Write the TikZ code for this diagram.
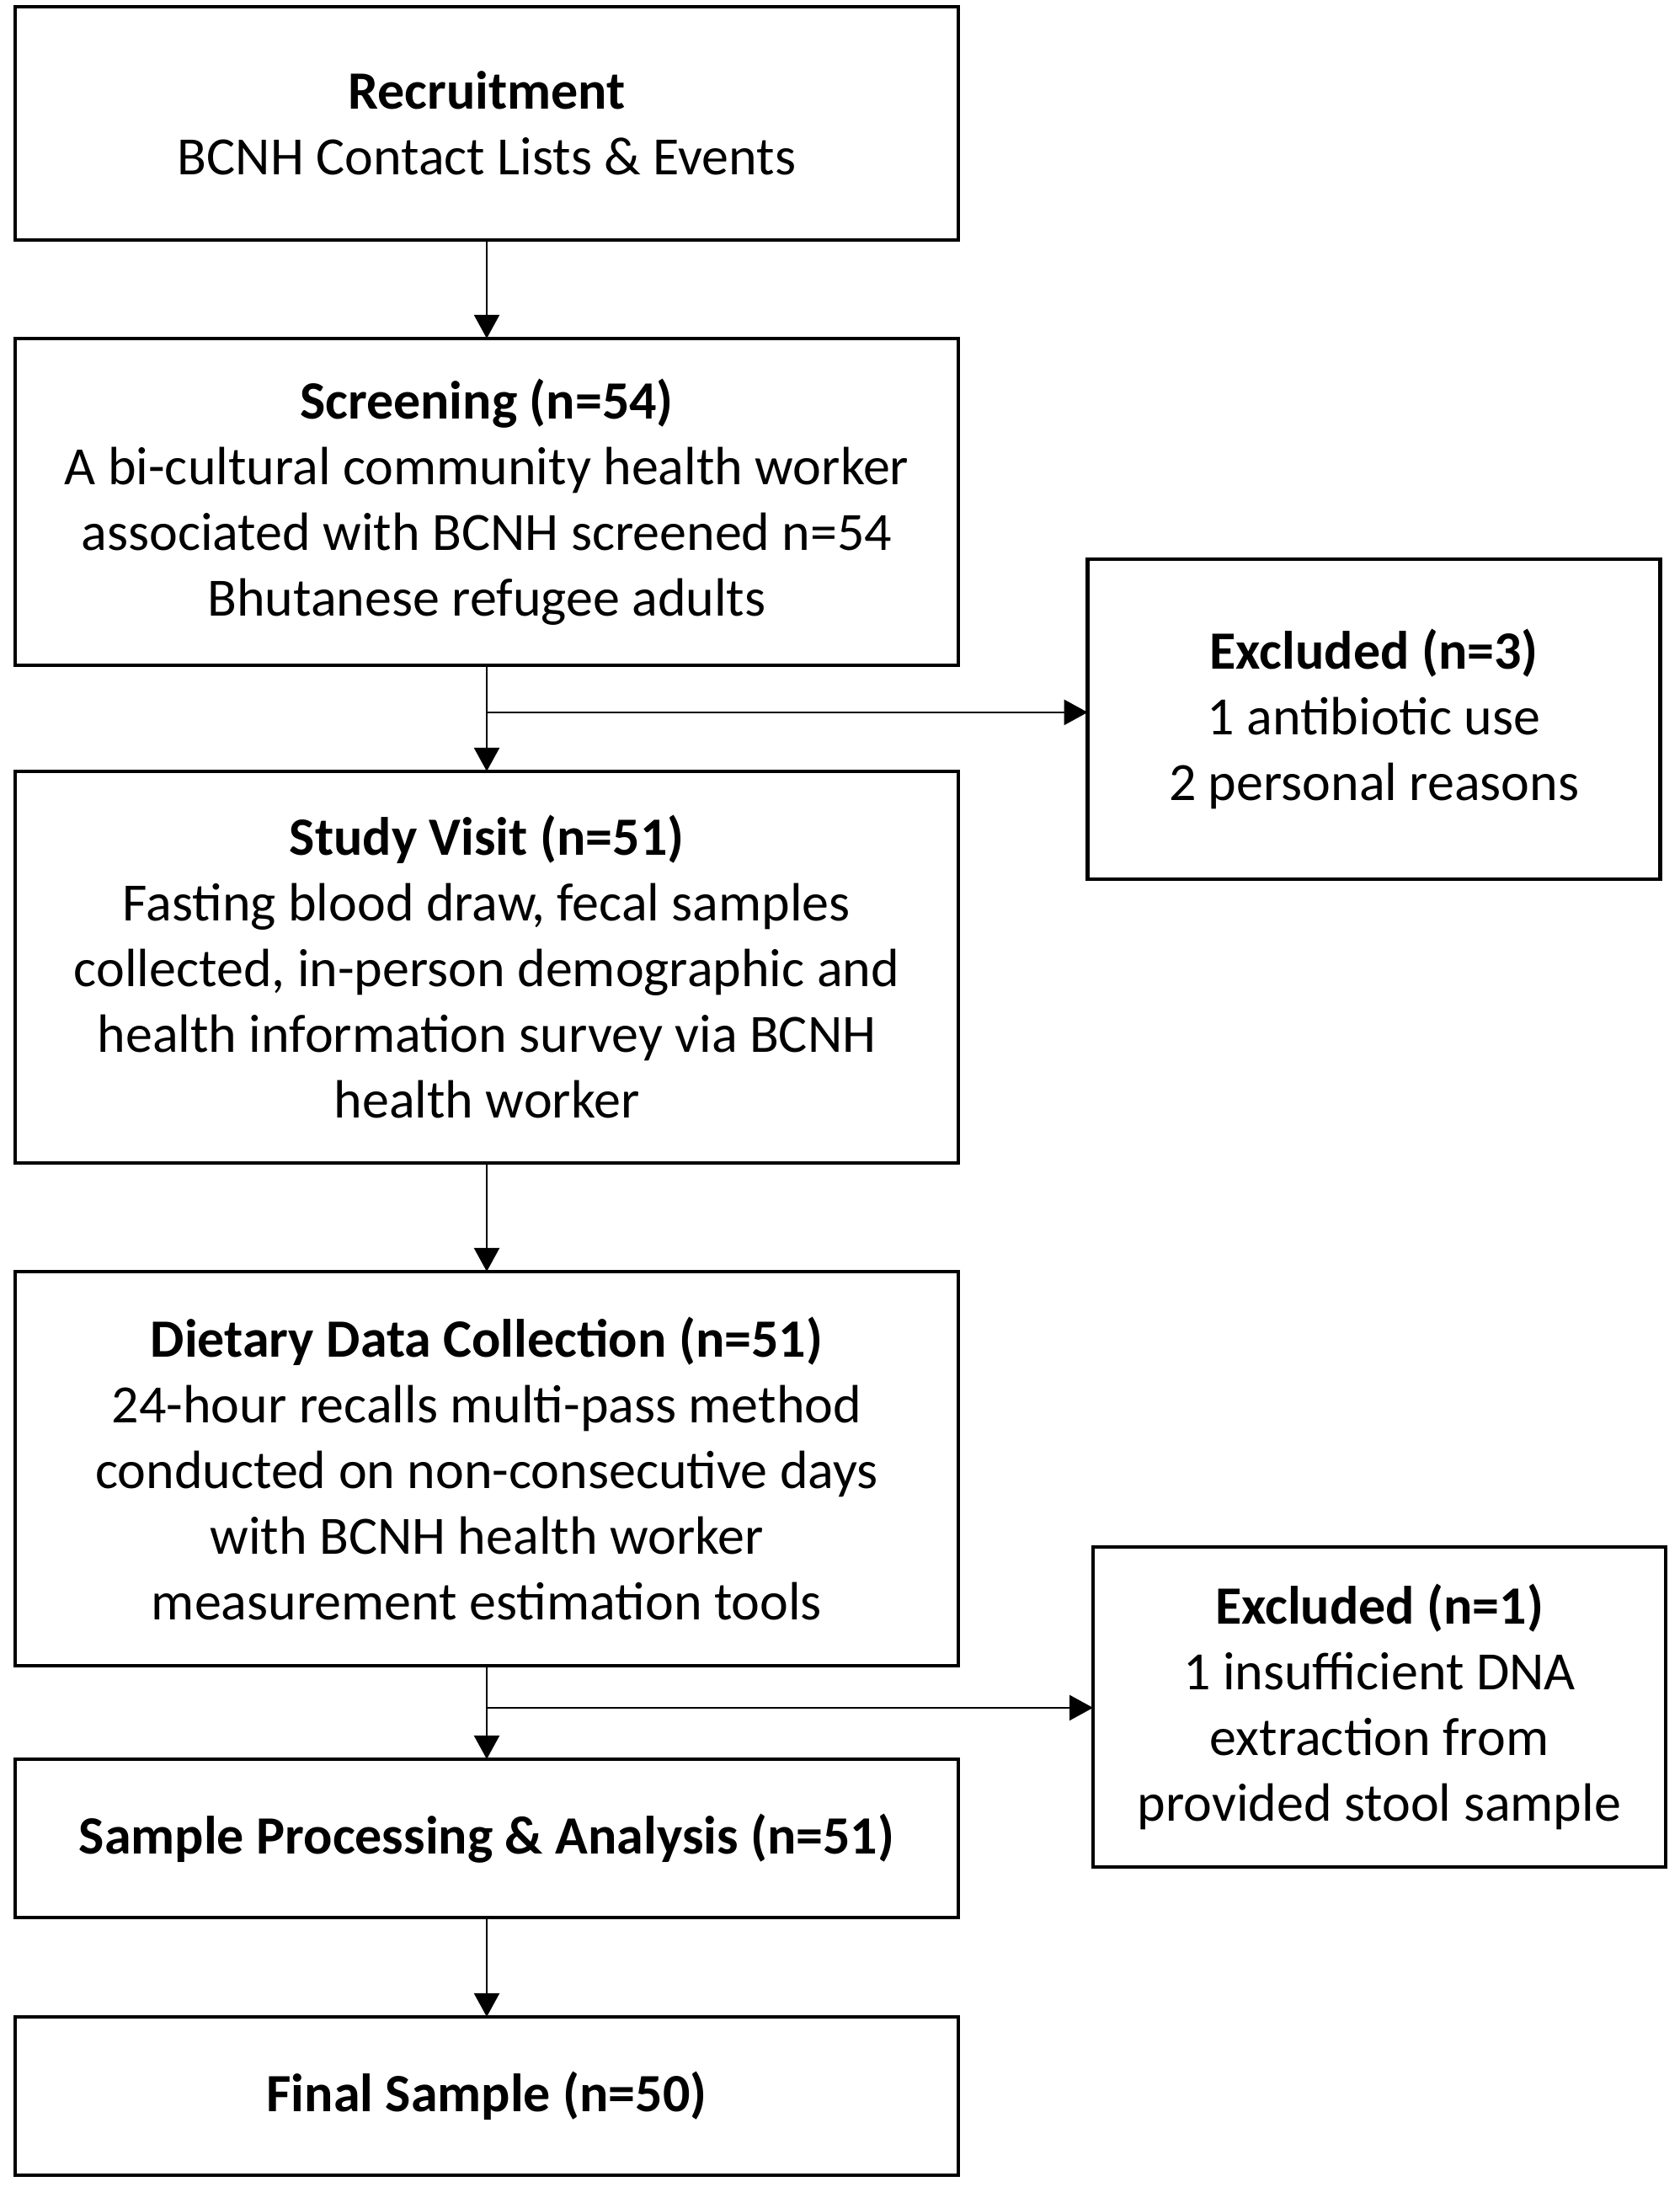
\documentclass[tikz,border=0pt]{standalone}
\usepackage{fontspec}
\setmainfont{Carlito}
\usetikzlibrary{
    arrows.meta,
    positioning
}
\tikzset{
    % Box styles
    stage box/.style={
        draw=black,
        line width=1.1pt,
        rectangle,
        minimum width=280pt,
        inner sep=0pt,
        outer sep=0pt,
        align=center,
        font=\fontsize{16pt}{19.5pt}\selectfont
    },
    exclude box/.style={
        stage box,
        minimum width=170pt,
        minimum height=95pt
    },
    % Arrow styles
    flow arrow/.style={
        -{Triangle[length=7pt,width=7.5pt]},
        line width=0.6pt,
        black
    }
}

\begin{document}
\begin{tikzpicture}
    \useasboundingbox (0,0) rectangle (498.5pt,-649.25pt);

        % main column
        \node[stage box, minimum height=69.25pt] (recruit) at (144.5pt,-36.6pt)
            {\textbf{Recruitment}\\BCNH Contact Lists \& Events};
        \node[stage box, minimum height=97pt, below=29.25pt of recruit] (screen)
            {\textbf{Screening (n=54)}\\A bi-cultural community health worker\\associated with BCNH screened n=54\\Bhutanese refugee adults};
        \node[stage box, minimum height=116.25pt, below=31.5pt of screen] (visit)
            {\textbf{Study Visit (n=51)}\\Fasting blood draw, fecal samples\\collected, in-person demographic and\\health information survey via BCNH\\health worker};
        \node[stage box, minimum height=117pt, below=32.25pt of visit] (diet)
            {\textbf{Dietary Data Collection (n=51)}\\24-hour recalls multi-pass method\\conducted on non-consecutive days\\with BCNH health worker\\measurement estimation tools};
        \node[stage box, minimum height=47pt, below=27.75pt of diet] (process)
            {\textbf{Sample Processing \& Analysis (n=51)}};
        \node[stage box, minimum height=47pt, below=29.5pt of process] (final)
            {\textbf{Final Sample (n=50)}};

        % exclusions
        \node[exclude box] (excluded1) at (407.9pt,-213.5pt)
            {\textbf{Excluded (n=3)}\\1 antibiotic use\\2 personal reasons};
        \node[exclude box] (excluded2) at (409.5pt,-506.75pt)
            {\textbf{Excluded (n=1)}\\1 insufficient DNA\\extraction from\\provided stool sample};

        \coordinate (split1) at ([yshift=-14pt]screen.south);
        \coordinate (split2) at ([yshift=-12.5pt]diet.south);

        \draw[flow arrow] (recruit) -- (screen);
        \draw[flow arrow] (screen) -- (visit);
        \draw[flow arrow] (visit) -- (diet);
        \draw[flow arrow] (diet) -- (process);
        \draw[flow arrow] (process) -- (final);
        \draw[flow arrow] (split1) -- (split1 -| excluded1.west);
        \draw[flow arrow] (split2) -- (split2 -| excluded2.west);
    \end{tikzpicture}
\end{document}
